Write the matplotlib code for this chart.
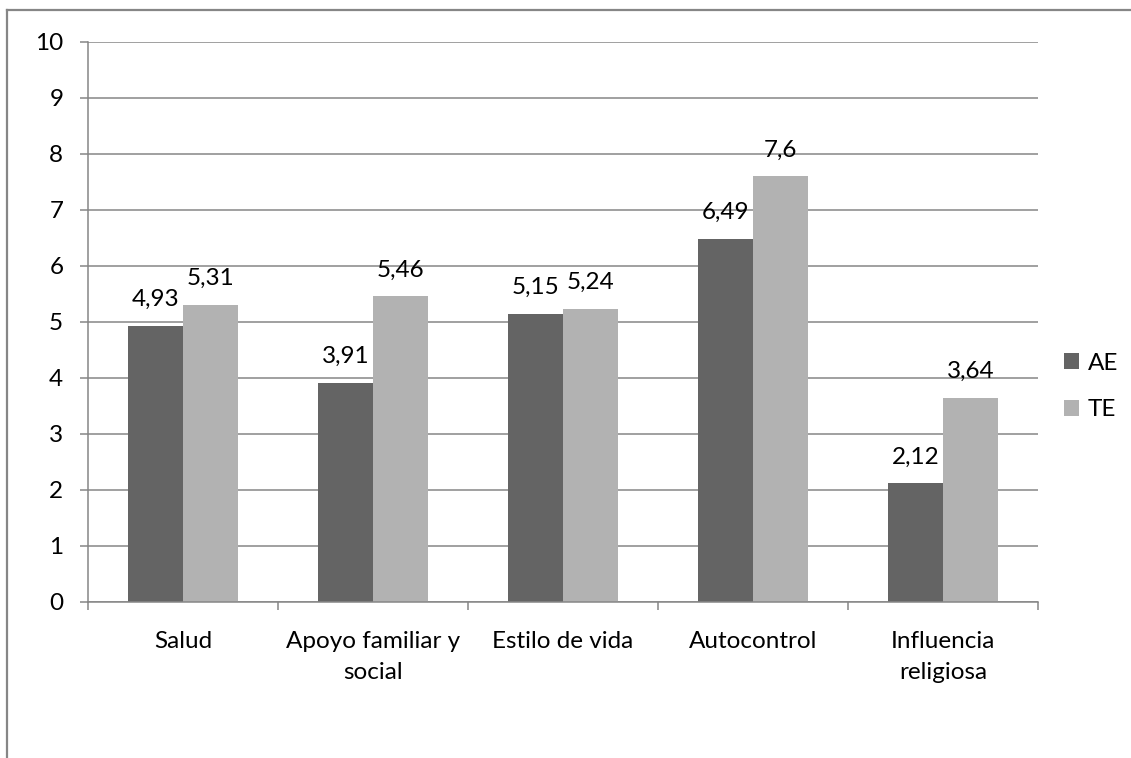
import matplotlib
matplotlib.use("Agg")
import matplotlib.pyplot as plt
from matplotlib.lines import Line2D
from matplotlib.patches import Patch

# Data
categories = ["Salud", "Apoyo familiar y\nsocial", "Estilo de vida",
              "Autocontrol", "Influencia\nreligiosa"]
series_names = ["AE", "TE"]
ae_values = [4.93, 3.91, 5.15, 6.49, 2.12]
te_values = [5.31, 5.46, 5.24, 7.6, 3.64]
y_ticks = list(range(0, 11))

plt.rcParams["font.family"] = ["Lato", "DejaVu Sans"]
FS = 17.5
GRID = "#868686"
AE_COLOR = "#646464"
TE_COLOR = "#b2b2b2"

W, H = 1131, 758
fig = plt.figure(figsize=(W / 100, H / 100), dpi=100)
ax = fig.add_axes([88 / W, 1 - 602 / H, (1038 - 88) / W, (602 - 42) / H])

n = len(categories)
x = list(range(n))
bw = 55 / 190

ae_x = [i - bw / 2 for i in x]
te_x = [i + bw / 2 for i in x]
ax.bar(ae_x, ae_values, width=bw, color=AE_COLOR, zorder=3, label=series_names[0])
ax.bar(te_x, te_values, width=bw, color=TE_COLOR, zorder=3, label=series_names[1])


def fmt(v):
    return f"{v:g}".replace(".", ",")


for xs, vals in ((ae_x, ae_values), (te_x, te_values)):
    for xi, v in zip(xs, vals):
        ax.annotate(fmt(v), (xi, v), xytext=(0, 19), textcoords="offset points",
                    ha="center", va="center", fontsize=FS, color="black", zorder=4)

ax.set_xlim(-0.5, n - 0.5)
ax.set_ylim(0, 10)

# Horizontal gridlines
ax.set_yticks(y_ticks)
ax.set_yticklabels([str(t) for t in y_ticks])
ax.yaxis.grid(True, color=GRID, linewidth=1.1, zorder=0)
ax.tick_params(axis="y", length=5.8, width=1.1, color=GRID, pad=12,
               labelsize=FS, labelcolor="black")

# Category labels at centers, tick marks at boundaries
ax.set_xticks(x)
ax.set_xticklabels(categories, linespacing=1.55)
ax.set_xticks([i - 0.5 for i in range(n + 1)], minor=True)
ax.tick_params(axis="x", which="major", length=0, pad=21, labelsize=FS,
               labelcolor="black")
ax.tick_params(axis="x", which="minor", length=5.8, width=1.1, color=GRID)

for side in ("top", "right"):
    ax.spines[side].set_visible(False)
for side in ("left", "bottom"):
    ax.spines[side].set_color(GRID)
    ax.spines[side].set_linewidth(1.1)
    ax.spines[side].set_zorder(5)

handles = [Patch(facecolor=AE_COLOR, edgecolor="none"),
           Patch(facecolor=TE_COLOR, edgecolor="none")]
fig.legend(handles, series_names, loc="center left",
           bbox_to_anchor=(1064 / W, 1 - ((362 + 411) / 2) / H),
           frameon=False, fontsize=FS, handlelength=0.62, handleheight=0.62,
           handletextpad=0.35, labelspacing=1.05, borderpad=0, borderaxespad=0)

# Chart frame
fig.add_artist(Line2D([7 / W, 7 / W], [0, 1 - 10 / H], transform=fig.transFigure,
                      color=GRID, linewidth=1.6))
fig.add_artist(Line2D([7 / W, 1], [1 - 10 / H, 1 - 10 / H], transform=fig.transFigure,
                      color=GRID, linewidth=1.6))

fig.savefig("out.png", dpi=100, facecolor="white")
